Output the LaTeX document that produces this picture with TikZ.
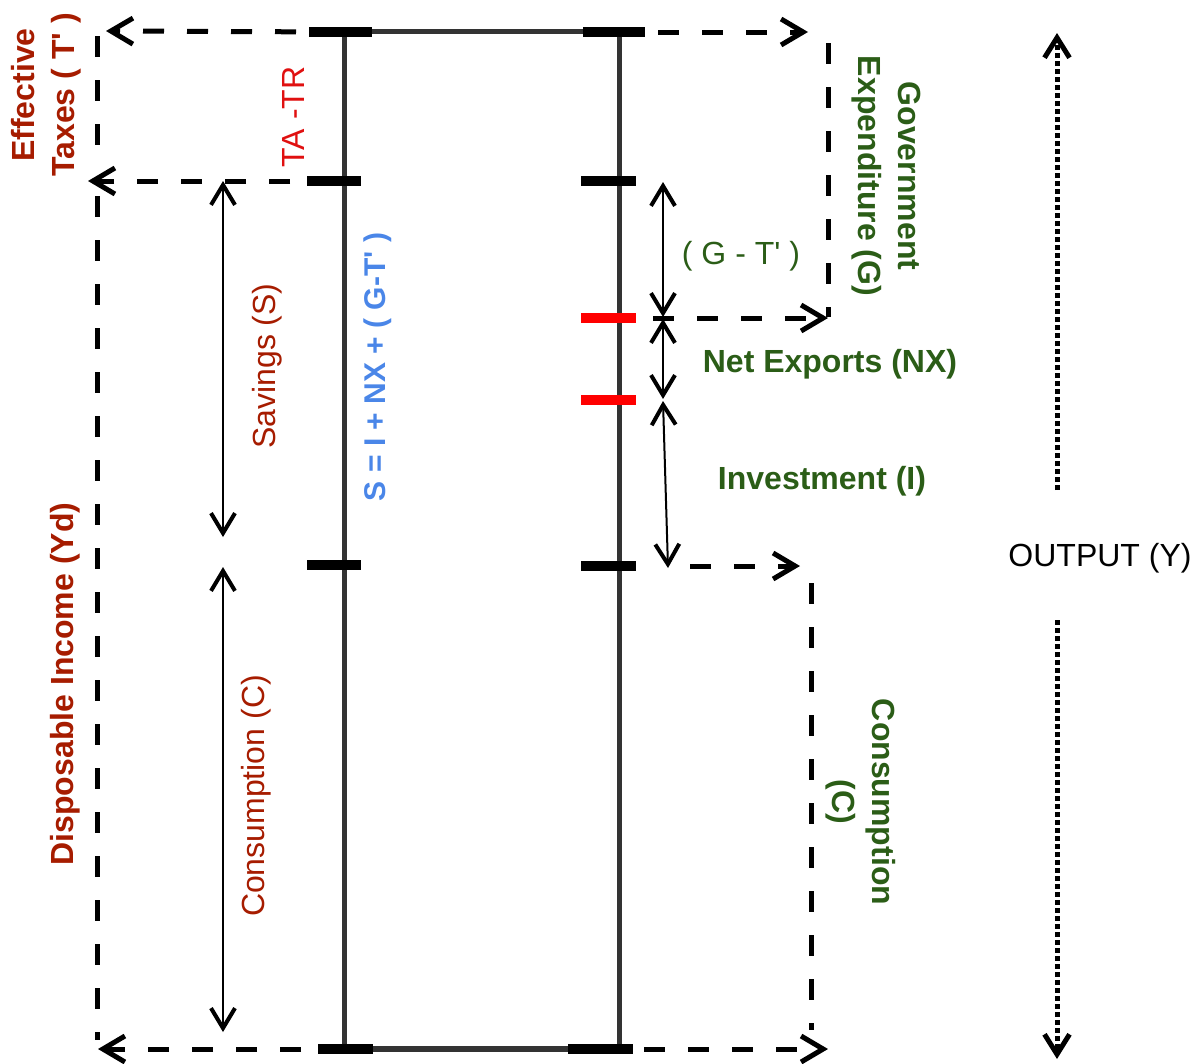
\documentclass[tikz,border=0pt]{standalone}
\usepackage{fontspec}
\setmainfont{Liberation Sans}[Ligatures=TeXOff]
\usetikzlibrary{arrows.meta}
\definecolor{dred}{HTML}{A61C00}
\definecolor{tred}{HTML}{E01010}
\definecolor{sblue}{HTML}{4A86E8}
\definecolor{dgreen}{HTML}{2B5D17}
\definecolor{bargray}{HTML}{333333}
\begin{document}
\begin{tikzpicture}[x=1pt,y=-1pt,
  lbl/.style={inner sep=0pt, align=center, font=\fontsize{32}{40}\selectfont},
  blbl/.style={inner sep=0pt, align=center, font=\fontsize{32}{40}\selectfont\bfseries},
  tickbar/.style={fill=black, minimum height=10pt, inner sep=0pt},
  redbar/.style={fill=red, minimum height=10pt, inner sep=0pt},
  bar/.style={draw=bargray, line width=5pt},
  dashline/.style={line width=5pt, dash pattern=on 21pt off 23pt},
  dtip/.style={-{Straight Barb[length=22pt,width=26pt,line width=5pt]}},
  dblarrow/.style={line width=2pt, {Straight Barb[length=20pt,width=24pt,line width=4pt]}-{Straight Barb[length=20pt,width=24pt,line width=4pt]}},
  dotline/.style={line width=5pt, dash pattern=on 5pt off 3pt},
  otip/.style={-{Straight Barb[length=20pt,width=25pt,line width=5pt]}},
]
\useasboundingbox (0,0) rectangle (1204,1063);

% tick positions
\coordinate (pL0) at (340,32);
\coordinate (pL1) at (334,181);
\coordinate (pL2) at (334,565);
\coordinate (pL3) at (345,1049);
\coordinate (pR0) at (614,32);
\coordinate (pR1) at (608,181);
\coordinate (pRg) at (608,318);
\coordinate (pRn) at (608,400);
\coordinate (pR2) at (608,566);
\coordinate (pR3) at (600,1049);

% main bars
\coordinate (L0) at (344,31);
\coordinate (L3) at (344,1049);
\coordinate (R0) at (619,31);
\coordinate (R3) at (619,1049);
\draw[bar] (L0) -- (L3);
\draw[bar] (R0) -- (R3);
\draw[bar] (L0) -- (R0);
\draw[bar, line width=6pt] (L3) -- (R3);

% left dashed connectors
\coordinate (aTL) at (106,31);
\coordinate (aML) at (88,181);
\coordinate (aBL) at (98,1049);
\coordinate (vLt) at (97,36);
\coordinate (vLm1) at (97,168);
\coordinate (vLm2) at (97,196);
\coordinate (vLb) at (97,1040);
\draw[dashline,dtip] (pL0) -- (aTL);
\draw[dashline,dtip] (pL1) -- (aML);
\draw[dashline,dtip] (pL3) -- (aBL);
\draw[dashline] (vLt) -- (vLm1);
\draw[dashline] (vLm2) -- (vLb);

% right dashed connectors
\coordinate (aTR) at (808,32);
\coordinate (vGt) at (828,43);
\coordinate (vGb) at (828,317);
\coordinate (sG) at (653,318);
\coordinate (aG) at (828,318);
\coordinate (sC) at (690,566);
\coordinate (aC) at (800,566);
\coordinate (vCt) at (811,583);
\coordinate (vCb) at (811,1030);
\coordinate (aBR) at (828,1049);
\draw[dashline,dtip] (pR0) -- (aTR);
\draw[dashline] (vGt) -- (vGb);
\draw[dashline,dtip] (sG) -- (aG);
\draw[dashline,dtip] (sC) -- (aC);
\draw[dashline] (vCt) -- (vCb);
\draw[dashline,dtip] (pR3) -- (aBR);

% tick bars
\node[tickbar, minimum width=63pt] (tL0) at (pL0) {};
\node[tickbar, minimum width=54pt] (tL1) at (pL1) {};
\node[tickbar, minimum width=54pt] (tL2) at (pL2) {};
\node[tickbar, minimum width=55pt] (tL3) at (pL3) {};
\node[tickbar, minimum width=62pt] (tR0) at (pR0) {};
\node[tickbar, minimum width=55pt] (tR1) at (pR1) {};
\node[redbar, minimum width=55pt] (tRg) at (pRg) {};
\node[redbar, minimum width=55pt] (tRn) at (pRn) {};
\node[tickbar, minimum width=55pt] (tR2) at (pR2) {};
\node[tickbar, minimum width=65pt] (tR3) at (pR3) {};

% double arrows
\coordinate (sT) at (223,181);
\coordinate (sB) at (223,537);
\coordinate (cT) at (223,567);
\coordinate (cB) at (223,1032);
\coordinate (gT) at (663,182);
\coordinate (gB) at (663,317);
\coordinate (nT) at (663,319);
\coordinate (nB) at (663,399);
\coordinate (iT) at (663,401);
\coordinate (iB) at (668,568);
\draw[dblarrow] (sT) -- (sB);
\draw[dblarrow] (cT) -- (cB);
\draw[dblarrow] (gT) -- (gB);
\draw[dblarrow] (nT) -- (nB);
\draw[dblarrow] (iT) -- (iB);

% output arrows
\coordinate (oT) at (1057,33);
\coordinate (oTs) at (1057,490);
\coordinate (oBs) at (1057,620);
\coordinate (oB) at (1057,1059);
\draw[dotline,otip] (oTs) -- (oT);
\draw[dotline,otip] (oBs) -- (oB);

% labels
\node[blbl, text=dred, rotate=90] (eff) at (46,95) {Effective\\Taxes ( T' )};
\node[lbl, text=tred, rotate=90] (tatr) at (293,117) {TA -TR};
\node[blbl, text=dred, rotate=90] (disp) at (65,684) {Disposable Income (Yd)};
\node[lbl, text=dred, rotate=90] (sav) at (267,366) {Savings (S)};
\node[lbl, text=dred, rotate=90] (consL) at (256,796) {Consumption (C)};
\node[blbl, text=sblue, rotate=90, font=\fontsize{30}{36}\selectfont\bfseries] (eq) at (378,367) {S = I + NX + ( G-T' )};
\node[blbl, text=dgreen, rotate=-90] (gov) at (886,176) {Government\\Expenditure (G)};
\node[lbl, text=dgreen] (gt) at (741,256) {( G - T' )};
\node[blbl, text=dgreen] (nx) at (830,364) {Net Exports (NX)};
\node[blbl, text=dgreen] (inv) at (822,481) {Investment (I)};
\node[blbl, text=dgreen, rotate=-90] (consR) at (861,802) {Consumption\\(C)};
\node[lbl, text=black] (out) at (1100,558) {OUTPUT (Y)};
\end{tikzpicture}
\end{document}
